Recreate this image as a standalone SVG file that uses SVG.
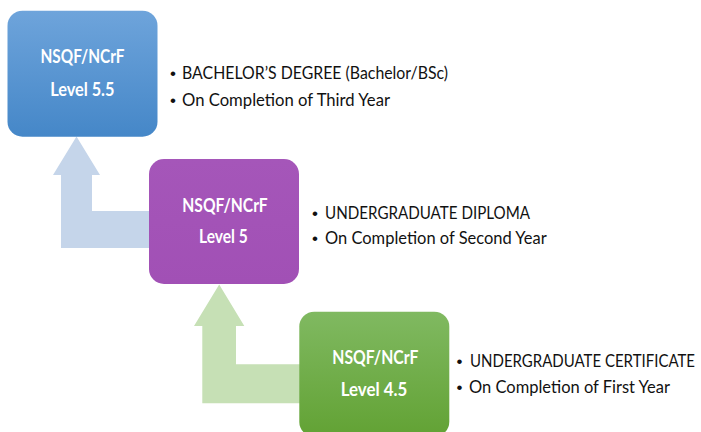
<svg xmlns="http://www.w3.org/2000/svg" width="701" height="432" viewBox="0 0 701 432">
<defs>
<linearGradient id="gBlue" x1="0" y1="0" x2="0" y2="1"><stop offset="0" stop-color="#6EA4DB"/><stop offset="1" stop-color="#4587C8"/></linearGradient>
<linearGradient id="gPurple" x1="0" y1="0" x2="0" y2="1"><stop offset="0" stop-color="#A556B9"/><stop offset="1" stop-color="#A150B5"/></linearGradient>
<linearGradient id="gGreen" x1="0" y1="0" x2="0" y2="1"><stop offset="0" stop-color="#80B961"/><stop offset="1" stop-color="#62A234"/></linearGradient>
<style>
.box-label{font-family:Lato,"Open Sans","Liberation Sans",sans-serif;font-weight:bold;font-size:18.5px;fill:#FFFFFF;text-anchor:middle}
.item{font-family:Lato,"Open Sans","Liberation Sans",sans-serif;font-size:17px;fill:#111111}
.bullet{font-family:"Liberation Sans",sans-serif;font-size:17px;fill:#111111;text-anchor:middle}
</style>
</defs>
<rect width="701" height="432" fill="#FFFFFF"/>
<g id="connectors">
<path id="arrow-blue" d="M76.5,136.5 L100,175 L92,175 L92,211 L152,211 L152,248 L61,248 L61,175 L53,175 Z" fill="#C5D5EA"/>
<path id="arrow-green" d="M219.2,284.5 L244.3,326 L236,326 L236,364.3 L302,364.3 L302,403.3 L202.3,403.3 L202.3,326 L194,326 Z" fill="#C6E0B5"/>
</g>
<g id="node-level-5-5">
<rect x="7.5" y="10.7" width="150" height="126" rx="15" fill="url(#gBlue)"/>
<text class="box-label" x="82.5" y="63.3" textLength="84" lengthAdjust="spacingAndGlyphs">NSQF/NCrF</text>
<text class="box-label" x="82.3" y="95.7" textLength="64.3" lengthAdjust="spacingAndGlyphs">Level 5.5</text>
<text class="bullet" x="173" y="79.3">•</text>
<text class="item" x="182" y="79.3" textLength="266" lengthAdjust="spacingAndGlyphs">BACHELOR’S DEGREE (Bachelor/BSc)</text>
<text class="bullet" x="173" y="106.3">•</text>
<text class="item" x="182" y="106.3" textLength="208" lengthAdjust="spacingAndGlyphs">On Completion of Third Year</text>
</g>
<g id="node-level-5">
<rect x="149" y="159" width="150" height="125" rx="15" fill="url(#gPurple)"/>
<text class="box-label" x="225" y="211.7" textLength="85.4" lengthAdjust="spacingAndGlyphs">NSQF/NCrF</text>
<text class="box-label" x="223.4" y="243.3" textLength="48.7" lengthAdjust="spacingAndGlyphs">Level 5</text>
<text class="bullet" x="315" y="219">•</text>
<text class="item" x="325" y="219" textLength="205" lengthAdjust="spacingAndGlyphs">UNDERGRADUATE DIPLOMA</text>
<text class="bullet" x="315" y="244.3">•</text>
<text class="item" x="325" y="244.3" textLength="221.7" lengthAdjust="spacingAndGlyphs">On Completion of Second Year</text>
</g>
<g id="node-level-4-5">
<rect x="299.3" y="311.7" width="150" height="125" rx="15" fill="url(#gGreen)"/>
<text class="box-label" x="375.3" y="364.3" textLength="86" lengthAdjust="spacingAndGlyphs">NSQF/NCrF</text>
<text class="box-label" x="374" y="395.8" textLength="66.6" lengthAdjust="spacingAndGlyphs">Level 4.5</text>
<text class="bullet" x="459.5" y="367.3">•</text>
<text class="item" transform="translate(470,367.3) scale(0.88,1)" x="0" y="0" textLength="255.7" lengthAdjust="spacingAndGlyphs">UNDERGRADUATE CERTIFICATE</text>
<text class="bullet" x="459.5" y="393.3">•</text>
<text class="item" x="469" y="393.3" textLength="201" lengthAdjust="spacingAndGlyphs">On Completion of First Year</text>
</g>
</svg>
